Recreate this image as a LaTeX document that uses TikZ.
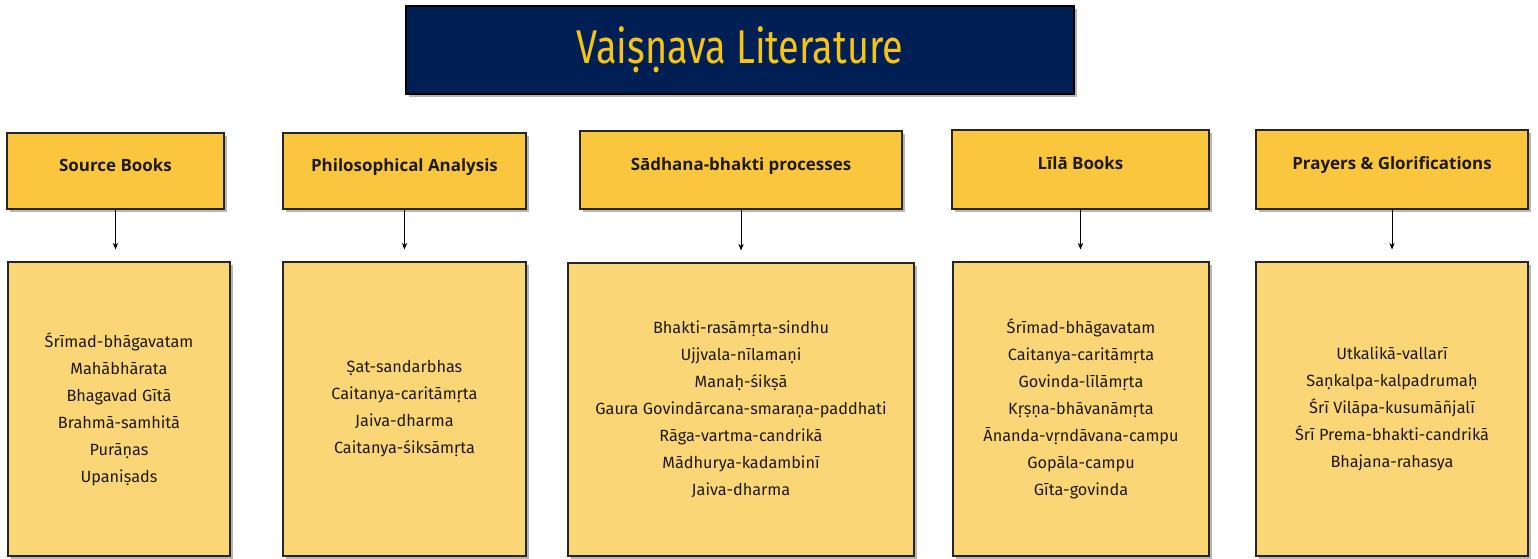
\documentclass[tikz,border=0pt]{standalone}
\usepackage{fontspec}
\setmainfont{Fira Sans}
\newfontfamily\titlefont[FakeStretch=0.8]{Fira Sans}
\newfontfamily\hdrfont{Open Sans}
\usetikzlibrary{shadows,arrows.meta}
\definecolor{navy}{RGB}{0,31,84}
\definecolor{gold}{RGB}{247,196,20}
\definecolor{hdrfill}{RGB}{249,198,61}
\definecolor{boxfill}{RGB}{250,214,118}
\definecolor{ink}{RGB}{30,26,18}
\tikzset{
  shade/.style={drop shadow={shadow xshift=2.5pt,shadow yshift=-2.5pt,opacity=0.4,fill=black!70}},
  titlebox/.style={draw=black,line width=0.9pt,fill=navy,shade,text=gold,
    font=\titlefont\fontsize{35.5}{38}\selectfont},
  hdrbox/.style={draw=black!85,line width=0.8pt,fill=hdrfill,shade,text=ink,text depth=9pt,
    font=\hdrfont\bfseries\fontsize{12.7}{15}\selectfont},
  listbox/.style={draw=black!85,line width=0.8pt,fill=boxfill,shade,text=ink,align=center,
    font=\fontsize{12.2}{20.25}\selectfont},
  conn/.style={draw=black,line width=0.7pt,-{Stealth[length=5pt,width=4pt]},shorten >=9pt}
}
\begin{document}
\begin{tikzpicture}[x=0.75pt,y=-0.75pt]
\useasboundingbox (0,0) rectangle (1538,559);
\node[titlebox,minimum width={668*0.75pt},minimum height={88*0.75pt}] (title) at (740,50) {Vaiṣṇava Literature};

\node[hdrbox,minimum width={217*0.75pt},minimum height={76*0.75pt}] (h1) at (115.5,171) {Source Books};
\node[hdrbox,minimum width={243*0.75pt},minimum height={76*0.75pt}] (h2) at (404.5,171) {Philosophical Analysis};
\node[hdrbox,minimum width={322*0.75pt},minimum height={78*0.75pt}] (h3) at (741,170) {Sādhana-bhakti processes};
\node[hdrbox,minimum width={257*0.75pt},minimum height={79*0.75pt}] (h4) at (1080.5,169.5) {Līlā Books};
\node[hdrbox,minimum width={272*0.75pt},minimum height={79*0.75pt}] (h5) at (1392,169.5) {Prayers \& Glorifications};

\node[listbox,minimum width={222*0.75pt},minimum height={294*0.75pt}] (c1) at (119,409) {Śrīmad-bhāgavatam\\Mahābhārata\\Bhagavad Gītā\\Brahmā-samhitā\\Purāṇas\\Upaniṣads};
\node[listbox,minimum width={243*0.75pt},minimum height={294*0.75pt}] (c2) at (404.5,409) {Ṣat-sandarbhas\\Caitanya-caritāmṛta\\Jaiva-dharma\\Caitanya-śiksāmṛta};
\node[listbox,minimum width={346*0.75pt},minimum height={293*0.75pt}] (c3) at (741,409.5) {Bhakti-rasāmṛta-sindhu\\Ujjvala-nīlamaṇi\\Manaḥ-śikṣā\\Gaura Govindārcana-smaraṇa-paddhati\\Rāga-vartma-candrikā\\Mādhurya-kadambinī\\Jaiva-dharma};
\node[listbox,minimum width={256*0.75pt},minimum height={294*0.75pt}] (c4) at (1081,409) {Śrīmad-bhāgavatam\\Caitanya-caritāmṛta\\Govinda-līlāmṛta\\Kṛṣṇa-bhāvanāmṛta\\Ānanda-vṛndāvana-campu\\Gopāla-campu\\Gīta-govinda};
\node[listbox,minimum width={272*0.75pt},minimum height={294*0.75pt}] (c5) at (1392,409) {Utkalikā-vallarī\\Saṇkalpa-kalpadrumaḥ\\Śrī Vilāpa-kusumāñjalī\\Śrī Prema-bhakti-candrikā\\Bhajana-rahasya};

\foreach \i in {1,...,5} {
  \draw[conn] (h\i.south) -- (h\i.south |- c\i.north);
}
\end{tikzpicture}
\end{document}
